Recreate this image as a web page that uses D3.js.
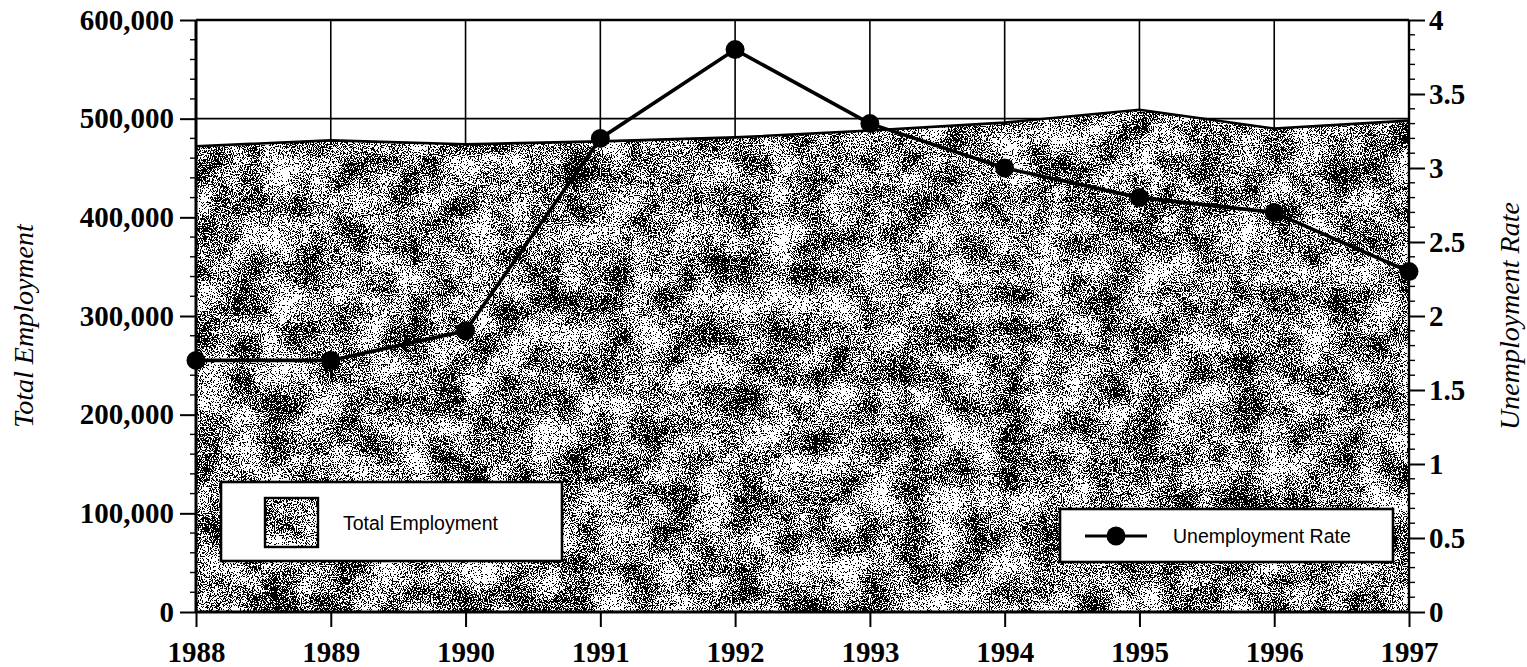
<!DOCTYPE html>
<html><head><meta charset="utf-8">
<script src="https://cdn.jsdelivr.net/npm/d3@7"></script>
<style>
html,body{margin:0;padding:0;background:#fff;}
svg{display:block;}
</style></head>
<body><svg id="chart" width="1527" height="667"></svg>
<script>
const years = [1988, 1989, 1990, 1991, 1992, 1993, 1994, 1995, 1996, 1997];
const totalEmployment = [472000, 478000, 474000, 477000, 481000, 488000, 496000, 509000, 490000, 498000];
const unemploymentRate = [1.7, 1.7, 1.9, 3.2, 3.8, 3.3, 3.0, 2.8, 2.7, 2.3];
const leftTicks = [0, 100000, 200000, 300000, 400000, 500000, 600000];
const rightTicks = [0, 0.5, 1, 1.5, 2, 2.5, 3, 3.5, 4];
const leftTitle = "Total Employment";
const rightTitle = "Unemployment Rate";
const legendArea = "Total Employment";
const legendLine = "Unemployment Rate";

const W = 1527, H = 667;
const m = {left: 196, right: 118, top: 20, bottom: 55};
const iw = W - m.left - m.right, ih = H - m.top - m.bottom;
const svg = d3.select("#chart");

const defs = svg.append("defs");
const f = defs.append("filter").attr("id", "grain")
  .attr("x", "-5%").attr("y", "-5%").attr("width", "110%").attr("height", "110%")
  .attr("color-interpolation-filters", "sRGB");
f.append("feTurbulence").attr("type", "fractalNoise").attr("baseFrequency", "0.9").attr("numOctaves", 2).attr("seed", 3).attr("result", "fineRaw");
f.append("feColorMatrix").attr("in", "fineRaw").attr("type", "matrix")
  .attr("values", "1 0 0 0 0  1 0 0 0 0  1 0 0 0 0  0 0 0 0 1").attr("result", "fine");
f.append("feTurbulence").attr("type", "fractalNoise").attr("baseFrequency", "0.03").attr("numOctaves", 3).attr("seed", 11).attr("result", "coarseRaw");
f.append("feColorMatrix").attr("in", "coarseRaw").attr("type", "matrix")
  .attr("values", "1 0 0 0 0  1 0 0 0 0  1 0 0 0 0  0 0 0 0 1").attr("result", "coarse");
f.append("feComposite").attr("in", "fine").attr("in2", "coarse").attr("operator", "arithmetic")
  .attr("k1", 0).attr("k2", 1.2).attr("k3", 0.5).attr("k4", -0.37).attr("result", "sum");
f.append("feColorMatrix").attr("in", "sum").attr("type", "matrix")
  .attr("values", "0 0 0 0 0  0 0 0 0 0  0 0 0 0 0  1 0 0 0 0").attr("result", "a");
const ct = f.append("feComponentTransfer").attr("in", "a").attr("result", "th");
ct.append("feFuncA").attr("type", "discrete").attr("tableValues", "0 0 0 0 0 1 1 1 1 1");
f.append("feComposite").attr("in", "th").attr("in2", "SourceGraphic").attr("operator", "in").attr("result", "dots");
const fm = f.append("feMerge");
fm.append("feMergeNode").attr("in", "SourceGraphic");
fm.append("feMergeNode").attr("in", "dots");

const g = svg.append("g").attr("transform", `translate(${m.left},${m.top})`);
const x = d3.scaleLinear().domain([years[0], years[years.length - 1]]).range([0, iw]);
const yL = d3.scaleLinear().domain([0, 600000]).range([ih, 0]);
const yR = d3.scaleLinear().domain([0, 4]).range([ih, 0]);

// gridlines
g.append("g").selectAll("line").data(years).join("line")
  .attr("x1", d => x(d)).attr("x2", d => x(d)).attr("y1", 0).attr("y2", ih)
  .attr("stroke", "#000").attr("stroke-width", 1.6);
g.append("g").selectAll("line").data(leftTicks).join("line")
  .attr("x1", 0).attr("x2", iw).attr("y1", d => yL(d)).attr("y2", d => yL(d))
  .attr("stroke", "#000").attr("stroke-width", 1.6);

// area
const data = years.map((yr, i) => ({yr, emp: totalEmployment[i], ur: unemploymentRate[i]}));
const area = d3.area().x(d => x(d.yr)).y0(ih).y1(d => yL(d.emp));
g.append("path").datum(data).attr("d", area).attr("fill", "#fff").attr("filter", "url(#grain)");
g.append("path").datum(data).attr("d", d3.line().x(d => x(d.yr)).y(d => yL(d.emp)))
  .attr("fill", "none").attr("stroke", "#000").attr("stroke-width", 2.6);

// axes
const tickFont = "'Liberation Serif','Times New Roman',serif";
const leftAxis = g.append("g").call(d3.axisLeft(yL).tickValues(leftTicks).tickFormat(d3.format(",")).tickSize(16).tickPadding(6));
const rightAxis = g.append("g").attr("transform", `translate(${iw},0)`)
  .call(d3.axisRight(yR).tickValues(rightTicks).tickFormat(d => String(d)).tickSize(16).tickPadding(4));
const bottomAxis = g.append("g").attr("transform", `translate(0,${ih})`)
  .call(d3.axisBottom(x).tickValues(years).tickFormat(d3.format("d")).tickSize(15).tickPadding(14));
// minor ticks
const minorL = d3.range(0, 600001, 20000).filter(v => v % 100000 !== 0);
g.append("g").selectAll("line").data(minorL).join("line")
  .attr("x1", -6).attr("x2", 0).attr("y1", d => yL(d)).attr("y2", d => yL(d)).attr("stroke", "#000").attr("stroke-width", 1.4);
const minorR = d3.range(1, 40).filter(v => v % 5 !== 0).map(v => v / 10);
g.append("g").selectAll("line").data(minorR).join("line")
  .attr("x1", iw).attr("x2", iw + 6).attr("y1", d => yR(d)).attr("y2", d => yR(d)).attr("stroke", "#000").attr("stroke-width", 1.4);

[leftAxis, rightAxis, bottomAxis].forEach(a => {
  a.select(".domain").attr("stroke", "#000").attr("stroke-width", 3);
  a.selectAll(".tick line").attr("stroke", "#000").attr("stroke-width", 2);
  a.selectAll("text").attr("font-family", tickFont).attr("font-weight", "bold").attr("font-size", 29).attr("fill", "#000");
});
leftAxis.select(".domain").attr("d", `M0,${ih}V0`);
rightAxis.select(".domain").attr("d", `M0,${ih}V0`).attr("stroke-width", 2.4);
bottomAxis.select(".domain").attr("d", `M0,0H${iw}`);
g.append("line").attr("x1", 0).attr("x2", iw).attr("y1", 0).attr("y2", 0).attr("stroke", "#000").attr("stroke-width", 2.4);

// unemployment line
g.append("path").datum(data).attr("d", d3.line().x(d => x(d.yr)).y(d => yR(d.ur)))
  .attr("fill", "none").attr("stroke", "#000").attr("stroke-width", 3.6);
g.append("g").selectAll("circle").data(data).join("circle")
  .attr("cx", d => x(d.yr)).attr("cy", d => yR(d.ur)).attr("r", 9.5).attr("fill", "#000");

// axis titles
svg.append("text").attr("transform", `translate(33,${m.top + ih / 2 + 10}) rotate(-90)`)
  .attr("text-anchor", "middle").attr("font-family", tickFont).attr("font-style", "italic").attr("font-size", 28)
  .text(leftTitle);
svg.append("text").attr("transform", `translate(1519,${m.top + ih / 2}) rotate(-90)`)
  .attr("text-anchor", "middle").attr("font-family", tickFont).attr("font-style", "italic").attr("font-size", 28)
  .text(rightTitle);

// legends
const lf = "'Liberation Sans',Arial,sans-serif";
const L1 = svg.append("g");
L1.append("rect").attr("x", 221).attr("y", 482).attr("width", 341).attr("height", 79).attr("fill", "#fff").attr("stroke", "#000").attr("stroke-width", 2.6);
L1.append("rect").attr("x", 265).attr("y", 498).attr("width", 53).attr("height", 49).attr("fill", "#fff").attr("filter", "url(#grain)");
L1.append("rect").attr("x", 265).attr("y", 498).attr("width", 53).attr("height", 49).attr("fill", "none").attr("stroke", "#000").attr("stroke-width", 2.4);
L1.append("text").attr("x", 343).attr("y", 523).attr("dy", "0.35em").attr("font-family", lf).attr("font-size", 19.5).text(legendArea);

const L2 = svg.append("g");
L2.append("rect").attr("x", 1060).attr("y", 509).attr("width", 333).attr("height", 53).attr("fill", "#fff").attr("stroke", "#000").attr("stroke-width", 2.6);
L2.append("line").attr("x1", 1085).attr("x2", 1147).attr("y1", 536).attr("y2", 536).attr("stroke", "#000").attr("stroke-width", 3);
L2.append("circle").attr("cx", 1116).attr("cy", 536).attr("r", 9.5).attr("fill", "#000");
L2.append("text").attr("x", 1173).attr("y", 536).attr("dy", "0.35em").attr("font-family", lf).attr("font-size", 19.5).text(legendLine);
</script></body></html>
